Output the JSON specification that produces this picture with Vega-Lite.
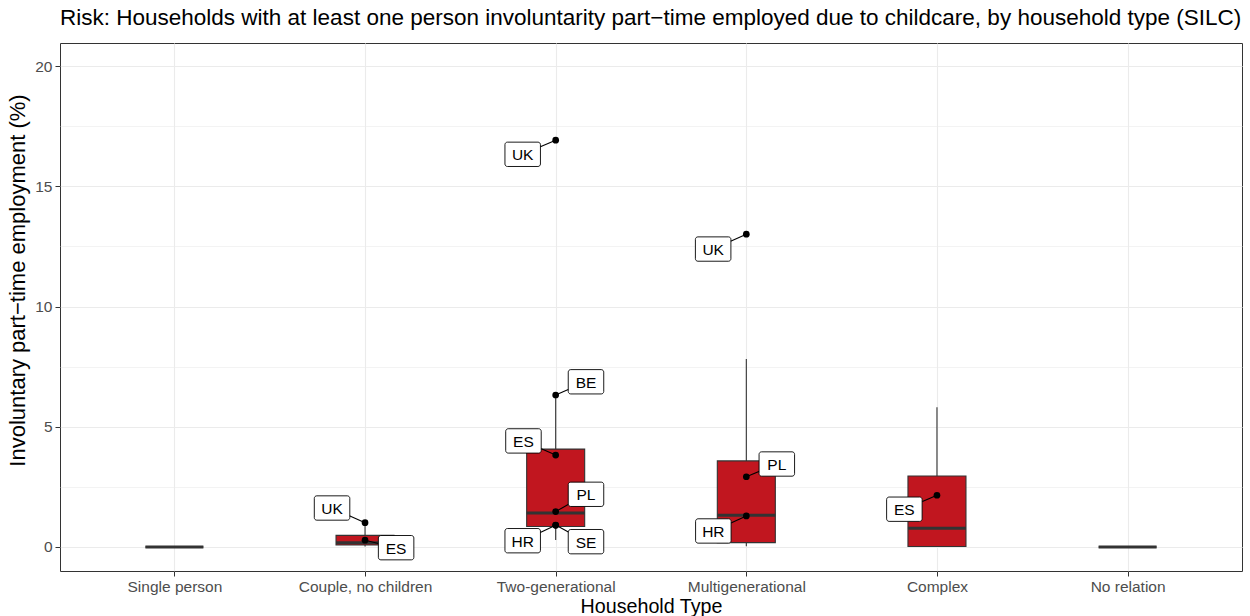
{
  "$schema": "https://vega.github.io/schema/vega-lite/v6.json",
  "width": 1182,
  "height": 528,
  "autosize": {"type": "none"},
  "padding": {"left": 60, "top": 43, "right": 8, "bottom": 45},
  "background": "white",
  "config": {
    "font": "Liberation Sans",
    "view": {"stroke": "#333333", "strokeWidth": 1}
  },
  "title": {
    "text": "Risk: Households with at least one person involuntarity part−time employed due to childcare, by household type (SILC)",
    "anchor": "start",
    "frame": "group",
    "fontSize": 22.5,
    "fontWeight": "normal",
    "color": "#000000",
    "offset": 14
  },
  "datasets": {
    "boxes": [
      {"type": "Single person", "pos": 1, "lower": 0, "q1": 0, "median": 0, "q3": 0, "upper": 0},
      {"type": "Couple, no children", "pos": 2, "lower": 0.02, "q1": 0.08, "median": 0.17, "q3": 0.48, "upper": 1.01},
      {"type": "Two-generational", "pos": 3, "lower": 0.29, "q1": 0.85, "median": 1.41, "q3": 4.07, "upper": 6.32},
      {"type": "Multigenerational", "pos": 4, "lower": 0.03, "q1": 0.18, "median": 1.32, "q3": 3.58, "upper": 7.82},
      {"type": "Complex", "pos": 5, "lower": 0.0, "q1": 0.02, "median": 0.78, "q3": 2.95, "upper": 5.81},
      {"type": "No relation", "pos": 6, "lower": 0, "q1": 0, "median": 0, "q3": 0, "upper": 0}
    ],
    "labels": [
      {"type": "Couple, no children", "country": "UK", "pos": 2, "value": 1.01, "lx": 1.827, "ly": 1.62},
      {"type": "Couple, no children", "country": "ES", "pos": 2, "value": 0.28, "lx": 2.163, "ly": -0.03},
      {"type": "Two-generational", "country": "UK", "pos": 3, "value": 16.92, "lx": 2.827, "ly": 16.33},
      {"type": "Two-generational", "country": "BE", "pos": 3, "value": 6.32, "lx": 3.159, "ly": 6.87},
      {"type": "Two-generational", "country": "ES", "pos": 3, "value": 3.82, "lx": 2.831, "ly": 4.41},
      {"type": "Two-generational", "country": "PL", "pos": 3, "value": 1.47, "lx": 3.159, "ly": 2.19},
      {"type": "Two-generational", "country": "HR", "pos": 3, "value": 0.9, "lx": 2.827, "ly": 0.26},
      {"type": "Two-generational", "country": "SE", "pos": 3, "value": 0.91, "lx": 3.159, "ly": 0.22},
      {"type": "Multigenerational", "country": "UK", "pos": 4, "value": 13.01, "lx": 3.826, "ly": 12.39},
      {"type": "Multigenerational", "country": "PL", "pos": 4, "value": 2.92, "lx": 4.16, "ly": 3.45},
      {"type": "Multigenerational", "country": "HR", "pos": 4, "value": 1.29, "lx": 3.827, "ly": 0.665},
      {"type": "Complex", "country": "ES", "pos": 5, "value": 2.15, "lx": 4.829, "ly": 1.57}
    ]
  },
  "encoding": {
    "x": {
      "field": "pos",
      "type": "quantitative",
      "scale": {"domain": [0.4, 6.6], "nice": false, "zero": false, "padding": 0},
      "axis": {
        "title": "Household Type",
        "titleFontSize": 19.7,
        "titleFontWeight": "normal",
        "titleColor": "#000000",
        "titlePadding": 2,
        "values": [1, 2, 3, 4, 5, 6],
        "labelExpr": "['Single person','Couple, no children','Two-generational','Multigenerational','Complex','No relation'][datum.value - 1]",
        "labelFontSize": 15.5,
        "labelColor": "#4D4D4D",
        "labelPadding": 3,
        "tickSize": 5,
        "tickColor": "#333333",
        "domain": false,
        "grid": true,
        "gridColor": "#EBEBEB",
        "gridWidth": 1.1
      }
    },
    "y": {
      "type": "quantitative",
      "scale": {"domain": [-1.0, 20.96], "nice": false, "zero": false, "padding": 0},
      "axis": {
        "title": "Involuntary part−time employment (%)",
        "titleFontSize": 22,
        "titleFontWeight": "normal",
        "titleColor": "#000000",
        "titlePadding": 5,
        "titleY": 237,
        "values": [0, 2.5, 5, 7.5, 10, 12.5, 15, 17.5, 20],
        "labelExpr": "datum.value % 5 === 0 ? datum.label : ''",
        "labelFontSize": 15.5,
        "labelColor": "#4D4D4D",
        "labelPadding": 3,
        "tickSize": 5,
        "tickColor": "#333333",
        "tickOpacity": {"condition": {"test": "datum.value % 5 !== 0", "value": 0}, "value": 1},
        "domain": false,
        "grid": true,
        "gridColor": "#EBEBEB",
        "gridWidth": {"condition": {"test": "datum.value % 5 !== 0", "value": 0.6}, "value": 1.1}
      }
    }
  },
  "layer": [
    {
      "data": {"name": "boxes"},
      "mark": {"type": "rule", "color": "#333333", "strokeWidth": 1.1},
      "encoding": {"y": {"field": "q3"}, "y2": {"field": "upper"}}
    },
    {
      "data": {"name": "boxes"},
      "mark": {"type": "rule", "color": "#333333", "strokeWidth": 1.1},
      "encoding": {"y": {"field": "lower"}, "y2": {"field": "q1"}}
    },
    {
      "data": {"name": "boxes"},
      "mark": {"type": "bar", "width": 58, "fill": "#C1161F", "stroke": "#333333", "strokeWidth": 1.1},
      "encoding": {"y": {"field": "q1"}, "y2": {"field": "q3"}}
    },
    {
      "data": {"name": "boxes"},
      "mark": {"type": "tick", "orient": "horizontal", "size": 58, "thickness": 3, "color": "#333333", "opacity": 1},
      "encoding": {"y": {"field": "median"}}
    },
    {
      "data": {"name": "labels"},
      "mark": {"type": "rule", "color": "#000000", "strokeWidth": 1.1},
      "encoding": {"y": {"field": "value"}, "x2": {"field": "lx"}, "y2": {"field": "ly"}}
    },
    {
      "data": {"name": "labels"},
      "mark": {"type": "point", "filled": true, "shape": "circle", "size": 45, "color": "#000000", "opacity": 1},
      "encoding": {"y": {"field": "value"}}
    },
    {
      "data": {"name": "labels"},
      "mark": {
        "type": "point",
        "filled": false,
        "shape": "M-0.86,-0.686 H0.86 A0.14,0.14 0 0 1 1,-0.546 V0.546 A0.14,0.14 0 0 1 0.86,0.686 H-0.86 A0.14,0.14 0 0 1 -1,0.546 V-0.546 A0.14,0.14 0 0 1 -0.86,-0.686 Z",
        "size": 1260,
        "fill": "#FFFFFF",
        "fillOpacity": 1,
        "stroke": "#000000",
        "strokeWidth": 0.9,
        "opacity": 1
      },
      "encoding": {"x": {"field": "lx"}, "y": {"field": "ly"}}
    },
    {
      "data": {"name": "labels"},
      "mark": {"type": "text", "fontSize": 15.5, "color": "#000000", "align": "center", "baseline": "middle", "dy": 1},
      "encoding": {"x": {"field": "lx"}, "y": {"field": "ly"}, "text": {"field": "country"}}
    }
  ]
}
